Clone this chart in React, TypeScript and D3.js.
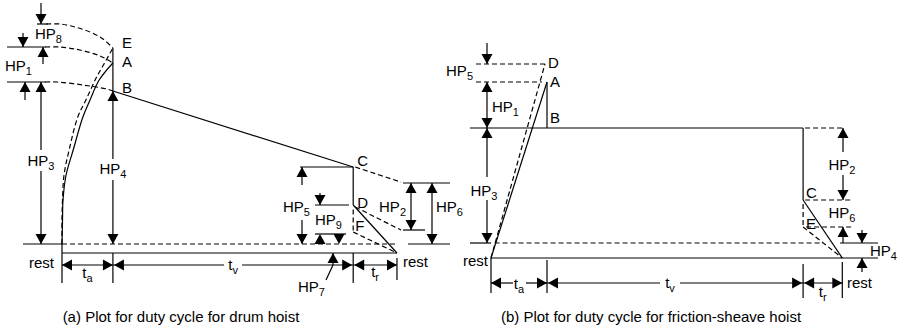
import { useEffect, useRef } from 'react'
import * as d3 from 'd3'

const W = 903
const H = 333
const FONT = '"Liberation Sans", Arial, Helvetica, sans-serif'
const INK = '#000'

// (a) drum hoist: phase boundaries in s (start, end of ta, end of tv, end of tr)
const drumPhases = [0, 10, 57.2, 65.8]
const drumPointNames = ['E', 'A', 'B', 'C', 'D', 'F']
const drumPointPower = [98, 90.5, 76.5, 38.5, 19.5, 6]
const drumRestPower = -4.5
// acceleration curves [t, P]
const drumAccel = [[0, 0], [0.1, 12], [0.2, 22], [0.8, 34.5], [2.2, 47], [4.1, 63.5], [5.5, 72], [7.3, 82], [10, 90.5]]
const drumAccelPeak = [[0, 0], [0, 12], [0.1, 22], [0.4, 34.5], [1.4, 47], [3.1, 63.5], [4.7, 72], [6.7, 83], [8.25, 90], [10, 98]]
// motor curves (dashed) ending in E, A and B
const drumCurveE = [[-3.1, 110], [-0.4, 110], [2.55, 108.5], [5.5, 106], [8.05, 102.5], [10, 98]]
const drumCurveA = [[-3.3, 98.5], [-0.4, 98.5], [3.5, 97], [7.5, 94], [10, 90.5]]
const drumCurveB = [[-3.3, 81], [-1, 81], [4.1, 79.5], [8.8, 77.5], [10, 76.5]]

// (b) friction-sheave hoist
const sheavePhases = [0, 11, 61.3, 69]
const sheavePointNames = ['D', 'A', 'B', 'C', 'E']
const sheavePointPower = [89.5, 80.5, 57.5, 21.5, 8]
const sheaveRestPower = -7.5
const sheavePeakTime = 10.6

const captions = ['(a) Plot for duty cycle for drum hoist', '(b) Plot for duty cycle for friction-sheave hoist']

const App = () => {
  const ref = useRef<SVGSVGElement>(null)

  useEffect(() => {
    if (!ref.current) return
    const svg = d3.select(ref.current)
    svg.selectAll('*').remove()
    const g = svg.append('g')

    const line = (x1: number, y1: number, x2: number, y2: number, dash = false) =>
      g.append('line')
        .attr('x1', x1).attr('y1', y1).attr('x2', x2).attr('y2', y2)
        .attr('stroke', INK).attr('stroke-width', 1.2)
        .attr('stroke-dasharray', dash ? '5,3' : null)

    const path = (pts: number[][], dash: boolean) =>
      g.append('path')
        .attr('d', d3.line().curve(d3.curveCatmullRom.alpha(0.5))(pts as [number, number][]))
        .attr('fill', 'none').attr('stroke', INK).attr('stroke-width', 1.2)
        .attr('stroke-dasharray', dash ? '5,3' : null)

    const head = (x: number, y: number, dir: string) => {
      const L = 10, w = 5.5
      let pts: number[][] = []
      if (dir === 'up') pts = [[x, y], [x - w, y + L], [x + w, y + L]]
      if (dir === 'down') pts = [[x, y], [x - w, y - L], [x + w, y - L]]
      if (dir === 'left') pts = [[x, y], [x + L, y - w], [x + L, y + w]]
      if (dir === 'right') pts = [[x, y], [x - L, y - w], [x - L, y + w]]
      g.append('polygon').attr('points', pts.map((p) => p.join(',')).join(' ')).attr('fill', INK)
    }

    const arrow = (x1: number, y1: number, x2: number, y2: number) => {
      line(x1, y1, x2, y2)
      const dir = x1 === x2 ? (y2 < y1 ? 'up' : 'down') : (x2 < x1 ? 'left' : 'right')
      head(x2, y2, dir)
    }

    const label = (x: number, y: number, main: string, sub = '', anchor = 'start', size = 15) => {
      const t = g.append('text')
        .attr('x', x).attr('y', y)
        .attr('font-family', FONT).attr('font-size', size)
        .attr('text-anchor', anchor).attr('fill', INK)
      t.append('tspan').text(main)
      if (sub) t.append('tspan').attr('font-size', 11).attr('dy', 4).text(sub)
    }

    // ---------- (a) drum hoist ----------
    const xa = d3.scaleLinear().domain([0, 66]).range([62, 398])
    const ya = d3.scaleLinear().domain([0, 110]).range([244, 24])
    const [a0, a1, a2, a3] = drumPhases
    const PA: Record<string, number> = {}
    drumPointNames.forEach((n, i) => (PA[n] = drumPointPower[i]))
    const ma = (pts: number[][]) => pts.map(([t, p]) => [xa(t), ya(p)])

    line(23, ya(0), xa(a0), ya(0))
    line(xa(a0), ya(0), xa(a3) - 2, ya(0), true)
    line(xa(a0), ya(drumRestPower), xa(a3), ya(drumRestPower))
    path(ma(drumAccel), false)
    path(ma(drumAccelPeak), true)
    line(xa(a1), ya(PA.E), xa(a1), ya(PA.B))
    line(xa(a1), ya(PA.B), xa(a2), ya(PA.C))
    line(xa(a2), ya(PA.C), xa(a2), ya(PA.D))
    line(xa(a2), ya(PA.D), xa(a3), ya(drumRestPower))
    line(xa(a2), ya(17.3), xa(a2), ya(PA.F), true)
    line(xa(a2), ya(PA.F), xa(a3), ya(drumRestPower), true)
    const slope = (PA.C - PA.B) / (a2 - a1)
    const tExt = 66.6
    line(xa(a2) + 2, ya(PA.C), xa(tExt), ya(PA.C + slope * (tExt - a2)), true)
    line(xa(a2) + 2, ya(PA.D) + 2, xa(tExt), ya(7), true)
    path(ma(drumCurveE), true)
    path(ma(drumCurveA), true)
    path(ma(drumCurveB), true)
    line(37, ya(110), 48, ya(110))
    line(7, ya(98.5), 46, ya(98.5))
    line(7, ya(81), 46, ya(81))

    label(xa(a1) + 9, 48, 'E')
    label(xa(a1) + 9, 67, 'A')
    label(xa(a1) + 9, 93, 'B')
    label(xa(a2) + 4, 166, 'C')
    label(xa(a2) + 4, 208, 'D')
    label(xa(a2) + 2, 231, 'F')

    // HP8 / HP1 / HP3
    arrow(41, 3, 41, ya(110))
    arrow(43, 64, 43, ya(98.5))
    label(35, 39, 'HP', '8')
    arrow(23, 33, 23, ya(98.5))
    arrow(25, 100, 25, ya(81))
    label(5, 71, 'HP', '1')
    arrow(41, 150, 41, ya(81))
    arrow(41, 171, 41, ya(0))
    label(41, 166, 'HP', '3', 'middle')
    // HP4
    arrow(xa(a1), 159, xa(a1), ya(PA.B))
    arrow(xa(a1), 180, xa(a1), ya(0))
    label(xa(a1), 174, 'HP', '4', 'middle')
    // HP5
    line(300, ya(PA.C), xa(a2), ya(PA.C))
    arrow(302, 185, 302, ya(PA.C))
    arrow(302, 220, 302, ya(0))
    label(283, 212, 'HP', '5')
    // HP9
    line(315, ya(PA.D), 349, ya(PA.D))
    arrow(320, 193, 320, ya(PA.D))
    label(315, 225, 'HP', '9')
    line(315, 234, 346, 234)
    head(320, 234, 'up')
    head(339, ya(0), 'down')
    // HP7
    arrow(333, 265, 333, ya(drumRestPower))
    line(326, 280, 333, 265)
    label(298, 292, 'HP', '7')
    // HP2 / HP6
    line(403, 183, 450, 183)
    line(403, 230, 425, 230)
    line(408, ya(0), 450, ya(0))
    line(411, 183, 411, 230)
    head(411, 183, 'up')
    head(411, 230, 'down')
    label(406, 212, 'HP', '2', 'end')
    line(432, 183, 432, ya(0))
    head(432, 183, 'up')
    head(432, ya(0), 'down')
    label(436, 212, 'HP', '6')

    // time axis
    line(xa(a0), ya(0), xa(a0), 283)
    line(xa(a1), ya(drumRestPower), xa(a1), 283)
    line(xa(a2), ya(drumRestPower), xa(a2), 283)
    line(xa(a3), 258, xa(a3), 280)
    const ty = 265
    line(xa(a0), ty, xa(a1), ty)
    head(xa(a0), ty, 'left'); head(xa(a1), ty, 'right')
    label((xa(a0) + xa(a1)) / 2, 278, 't', 'a', 'middle')
    const mv = (xa(a1) + xa(a2)) / 2
    line(xa(a1), ty, mv - 9, ty); line(mv + 9, ty, xa(a2), ty)
    head(xa(a1) + 1, ty, 'left'); head(xa(a2) - 1, ty, 'right')
    label(mv, 270, 't', 'v', 'middle')
    line(xa(a2), ty, xa(a3), ty)
    head(xa(a2) + 1, ty, 'left'); head(xa(a3), ty, 'right')
    label((xa(a2) + xa(a3)) / 2, 277, 't', 'r', 'middle')
    label(29, 268, 'rest')
    label(403, 267, 'rest')

    // ---------- (b) friction-sheave hoist ----------
    const xb = d3.scaleLinear().domain([0, 69]).range([491, 842.3])
    const yb = d3.scaleLinear().domain([0, 110]).range([243, 23])
    const [b0, b1, b2, b3] = sheavePhases
    const PB: Record<string, number> = {}
    sheavePointNames.forEach((n, i) => (PB[n] = sheavePointPower[i]))
    const rb = yb(sheaveRestPower)

    line(470, yb(0), xb(b0), yb(0))
    line(xb(0.7), yb(0), xb(65.2), yb(0), true)
    line(xb(b0), rb, xb(b3), rb)
    line(xb(b0), rb, xb(b1), yb(PB.A))
    line(xb(b0), rb, xb(sheavePeakTime), yb(PB.D), true)
    line(476, yb(PB.D), xb(sheavePeakTime), yb(PB.D), true)
    line(476, yb(PB.A), xb(b1) - 5, yb(PB.A), true)
    line(xb(b1), yb(PB.A), xb(b1), yb(PB.B))
    line(470, yb(PB.B), xb(b2), yb(PB.B))
    line(xb(b2), yb(PB.B), xb(b2), yb(PB.C))
    line(xb(b2) + 2, yb(PB.B), 845, yb(PB.B), true)
    line(xb(b2) + 2, yb(PB.C), 853, yb(PB.C), true)
    line(xb(b2), yb(PB.C), xb(b3), rb)
    line(xb(b2), yb(19.5), xb(b2), yb(PB.E), true)
    line(xb(b2) + 3, yb(PB.E), 853, yb(PB.E), true)
    line(xb(b2), yb(PB.E), xb(b3), rb, true)

    label(xb(sheavePeakTime) + 3, 68, 'D')
    label(xb(b1) + 3, 87, 'A')
    label(xb(b1) + 3, 123, 'B')
    label(xb(b2) + 3, 198, 'C')
    label(xb(b2) + 3, 229, 'E')

    // HP5 / HP1 / HP3
    arrow(487, 43, 487, yb(PB.D))
    label(473, 76, 'HP', '5', 'end')
    line(487, yb(PB.A), 487, yb(PB.B))
    head(487, yb(PB.A), 'up')
    head(487, yb(PB.B), 'down')
    label(492, 112, 'HP', '1')
    arrow(487, 177, 487, yb(PB.B))
    arrow(487, 200, 487, yb(0))
    label(484, 196, 'HP', '3', 'middle')
    // HP2 / HP6 / HP4
    arrow(843, 152, 843, yb(PB.B))
    arrow(843, 175, 843, yb(PB.C))
    label(842, 170, 'HP', '2', 'middle')
    label(842, 218, 'HP', '6', 'middle')
    arrow(843, yb(0), 843, yb(PB.E))
    arrow(862, 230, 862, yb(0))
    line(840, yb(0), 878, yb(0))
    line(xb(b3), rb, 878, rb)
    arrow(862, 272, 862, rb)
    label(870, 256, 'HP', '4')

    // time axis
    line(xb(b0), rb, xb(b0), 293)
    line(xb(b1), rb + 2, xb(b1), 293)
    line(xb(b2), 264, xb(b2), 298)
    line(xb(b3), 262, xb(b3), 298)
    const tb = 283
    const ma2 = (xb(b0) + xb(b1)) / 2
    line(xb(b0), tb, ma2 - 6, tb); line(ma2 + 7, tb, xb(b1), tb)
    head(xb(b0), tb, 'left'); head(xb(b1), tb, 'right')
    label(ma2, 289, 't', 'a', 'middle')
    const mv2 = 670
    line(xb(b1), tb, mv2 - 10, tb); line(mv2 + 10, tb, xb(b2), tb)
    head(xb(b1) + 1, tb, 'left'); head(xb(b2) - 1, tb, 'right')
    label(mv2, 288, 't', 'v', 'middle')
    line(xb(b2), tb, xb(b3), tb)
    head(xb(b2) + 1, tb, 'left'); head(xb(b3), tb, 'right')
    label((xb(b2) + xb(b3)) / 2, 297, 't', 'r', 'middle')
    label(488, 266, 'rest', '', 'end')
    label(847, 288, 'rest')

    // captions
    label(181, 322, captions[0], '', 'middle')
    label(651, 322, captions[1], '', 'middle')
  }, [])

  return (
    <svg
      ref={ref}
      width={W}
      height={H}
      style={{ position: 'absolute', left: 0, top: 0, background: '#fff' }}
    />
  )
}

export default App
